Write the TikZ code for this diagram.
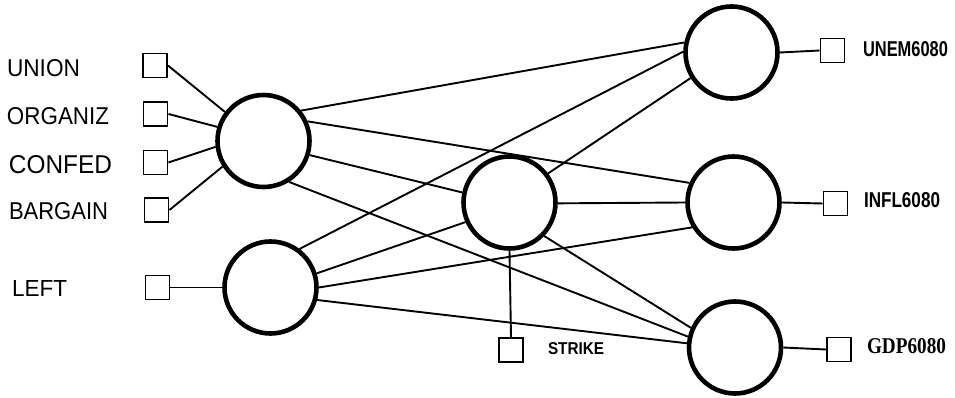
\documentclass[tikz,border=0pt]{standalone}
\usepackage{fontspec}
\usepackage{graphicx}
\newfontfamily\labsans{Liberation Sans}
\newfontfamily\labserif{Liberation Serif}
\newcommand{\fitlab}[3]{\resizebox{#1pt}{#2pt}{#3}}
\begin{document}
\begin{tikzpicture}[x=1pt,y=-1pt,
  hid/.style={circle, draw, line width=4.6pt, minimum size=92pt, inner sep=0pt},
  obs/.style={rectangle, draw, line width=1.9pt, minimum size=24pt, inner sep=0pt},
  conn/.style={line width=1.9pt},
  lbl/.style={anchor=west, inner sep=0pt, outer sep=0pt}]
\useasboundingbox[fill=white] (0,0) rectangle (955,398);

% latent circles
\node[hid] (c1) at (263.5,141) {};
\node[hid] (c2) at (270.5,287.5) {};
\node[hid] (c3) at (509.5,202.5) {};
\node[hid] (c4) at (731.5,52.5) {};
\node[hid] (c5) at (733.5,202.5) {};
\node[hid] (c6) at (735,347.5) {};

% observed squares
\node[obs] (sUnion) at (155,65.5) {};
\node[obs] (sOrg) at (155.5,114) {};
\node[obs] (sConf) at (155.5,162.5) {};
\node[obs] (sBarg) at (156.5,210) {};
\node[obs] (sLeft) at (157.5,287.5) {};
\node[obs] (sStrike) at (511,350) {};
\node[obs] (sUnem) at (832.5,50.5) {};
\node[obs] (sInfl) at (835.5,203.5) {};
\node[obs] (sGdp) at (839,349.5) {};

% labels
\node[lbl] (tUnion) at (7,68.5) {\fitlab{73}{17}{\labsans UNION}};
\node[lbl] (tOrg) at (7,116.5) {\fitlab{102}{17}{\labsans ORGANIZ}};
\node[lbl] (tConf) at (9,165) {\fitlab{103}{18}{\labsans CONFED}};
\node[lbl] (tBarg) at (9,211.5) {\fitlab{99}{17}{\labsans BARGAIN}};
\node[lbl] (tLeft) at (12,288) {\fitlab{55}{16}{\labsans LEFT}};
\node[lbl] (tStrike) at (548,349) {\fitlab{56}{12}{\labsans\bfseries STRIKE}};
\node[lbl] (tUnem) at (863,49.5) {\fitlab{85}{15}{\labsans\bfseries UNEM6080}};
\node[lbl] (tInfl) at (864,200.5) {\fitlab{76}{15}{\labsans\bfseries INFL6080}};
\node[lbl] (tGdp) at (867,346) {\fitlab{79}{15}{\labserif\bfseries GDP6080}};

% inputs
\draw[conn] (sUnion.east) -- (c1.143);
\draw[conn] (sOrg.east) -- (c1.163);
\draw[conn] (sConf.east) -- (c1.187);
\draw[conn] (sBarg.east) -- (c1.212);
\draw[conn] (sLeft.east) -- (c2.180);

% structural paths
\draw[conn] (c1.39) -- (c4.168);
\draw[conn] (c1.24) -- (c5.156);
\draw[conn] (c1.-17) -- (c3.168);
\draw[conn] (c1.-58) -- (c6.167);
\draw[conn] (c2.53) -- (c4.179);
\draw[conn] (c2.17) -- (c3.204);
\draw[conn] (c2.0) -- (c5.211);
\draw[conn] (c2.-15) -- (c6.175);
\draw[conn] (c3.37) -- (c4.212);
\draw[conn] (c3.-1) -- (c5.180);
\draw[conn] (c3.-44) -- (c6.156);
\draw[conn] (c3.south) -- (sStrike.north);

% outputs
\draw[conn] (c4.east) -- (sUnem.west);
\draw[conn] (c5.east) -- (sInfl.west);
\draw[conn] (c6.east) -- (sGdp.west);
\end{tikzpicture}
\end{document}
